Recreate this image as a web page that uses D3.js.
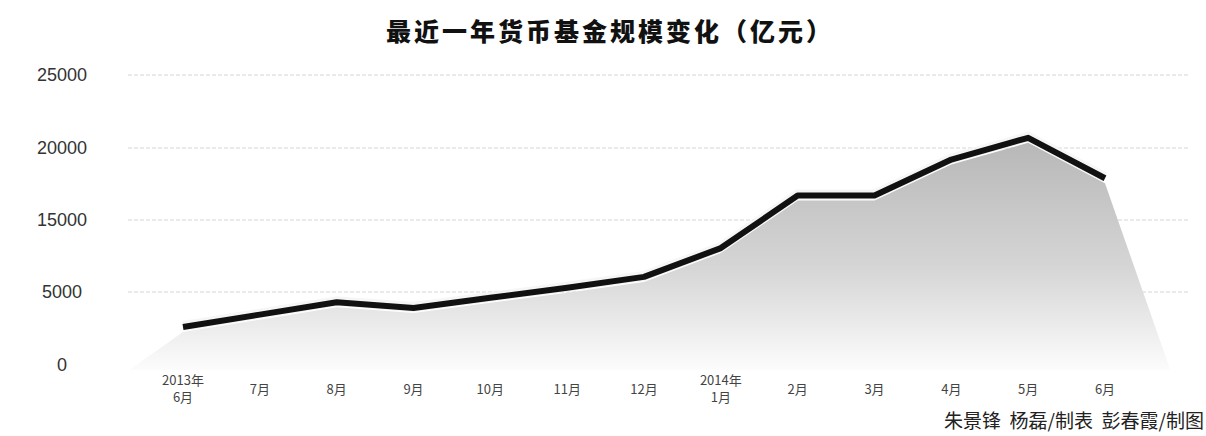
<!DOCTYPE html>
<html>
<head>
<meta charset="utf-8">
<script src="https://cdn.jsdelivr.net/npm/d3@7"></script>
<style>
  body { margin: 0; background: #fff; }
  svg { display: block; }
</style>
</head>
<body>
<div id="chart"></div>
<script>
let width = 1206;
let height = 436;

// months (second line) and year (first line, only where the year starts)
let months = ["6月","7月","8月","9月","10月","11月","12月","1月","2月","3月","4月","5月","6月"];
let years  = ["2013年","","","","","","","2014年","","","","",""];
// fund scale, 亿元
let scale  = [2600, 3450, 4300, 3900, 4600, 5600, 7100, 11100, 16700, 16700, 19200, 20700, 17900];
// y ticks as printed (the 10000 label is missing on the original)
let yTicks = [0, 5000, 15000, 20000, 25000];

let svg = d3.select("#chart").append("svg")
            .attr("width", width)
            .attr("height", height);

let x = d3.scaleLinear().domain([0, months.length - 1]).range([183, 1105]);
// gridlines are evenly spaced even though the labels skip 10000
let y = d3.scaleLinear().domain(yTicks).range([365, 292, 220, 148, 75]);

//gradient for the area
let defs = svg.append("defs");
let grad = defs.append("linearGradient")
               .attr("id", "fade")
               .attr("gradientUnits", "userSpaceOnUse")
               .attr("x1", 0).attr("x2", 0)
               .attr("y1", 135).attr("y2", 370);
grad.append("stop").attr("offset", 0).attr("stop-color", "#b7b7b7");
grad.append("stop").attr("offset", 0.55).attr("stop-color", "#d6d6d6");
grad.append("stop").attr("offset", 1).attr("stop-color", "#fefefe");

//title
svg.append("text")
   .attr("x", 610).attr("y", 41)
   .attr("text-anchor", "middle")
   .style("font-family", "'Noto Sans CJK SC'")
   .style("font-weight", 900)
   .style("font-size", "25px")
   .style("letter-spacing", "3px")
   .attr("fill", "#111")
   .text("最近一年货币基金规模变化（亿元）");

//gridlines
svg.append("g").selectAll("line")
   .data(yTicks.filter(d => d > 0))
   .join("line")
   .attr("x1", 128).attr("x2", 1190)
   .attr("y1", d => y(d)).attr("y2", d => y(d))
   .attr("stroke", "#e3e3e3")
   .attr("stroke-width", 1.5)
   .attr("stroke-dasharray", "4,2");

//y labels
svg.append("g").selectAll("text")
   .data(yTicks)
   .join("text")
   .attr("x", 62)
   .attr("y", d => y(d) + 6)
   .attr("text-anchor", "middle")
   .style("font-family", "'Liberation Sans', Arial")
   .style("font-size", "18px")
   .attr("fill", "#333")
   .text(d => d);

//area, feet run down to the baseline a bit outside the first and last month
let areaPts = [[-0.7, 0]].concat(scale.map((v, i) => [i, v]), [[12.85, 0]]);
let area = d3.area()
             .x(d => x(d[0]))
             .y0(y(0))
             .y1(d => y(d[1]));
svg.append("path")
   .datum(areaPts)
   .attr("d", area)
   .attr("transform", "translate(0,5)")
   .attr("fill", "url(#fade)");

//line
let line = d3.line()
             .x((d, i) => x(i))
             .y(d => y(d));
svg.append("path")
   .datum(scale)
   .attr("d", line)
   .attr("fill", "none")
   .attr("stroke", "#f4f4f4")
   .attr("stroke-width", 10)
   .attr("transform", "translate(0,-1)")
   .attr("opacity", 0.8);
svg.append("path")
   .datum(scale)
   .attr("d", line)
   .attr("fill", "none")
   .attr("stroke", "#111")
   .attr("stroke-width", 6)
   .attr("stroke-linejoin", "round");

//x labels
let xl = svg.append("g").selectAll("g")
            .data(months.map((m, i) => ({m: m, yr: years[i], i: i})))
            .join("g")
            .attr("transform", d => "translate(" + x(d.i) + ",0)");
xl.append("text")
  .attr("y", d => d.yr ? 402 : 394)
  .attr("text-anchor", "middle")
  .style("font-family", "'Noto Sans CJK SC'")
  .style("font-size", "13px")
  .attr("fill", "#444")
  .text(d => d.m);
xl.filter(d => d.yr)
  .append("text")
  .attr("y", 385)
  .attr("text-anchor", "middle")
  .style("font-family", "'Noto Sans CJK SC'")
  .style("font-size", "13px")
  .attr("fill", "#444")
  .text(d => d.yr);

//credit
svg.append("text")
   .attr("x", 1204).attr("y", 428)
   .attr("text-anchor", "end")
   .style("font-family", "'Noto Sans CJK SC'")
   .style("font-size", "19px")
   .style("white-space", "pre")
   .attr("fill", "#222")
   .text("朱景锋  杨磊/制表  彭春霞/制图");
</script>
</body>
</html>
